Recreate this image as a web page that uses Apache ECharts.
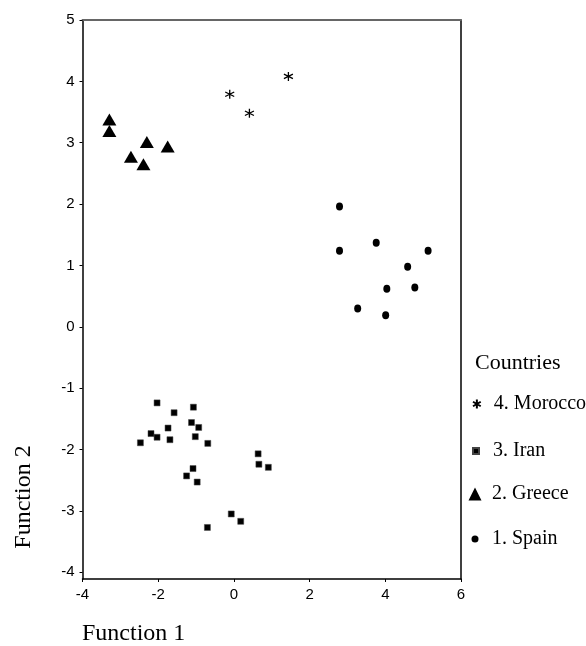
<!DOCTYPE html>
<html lang="en">
<head>
    <meta charset="UTF-8">
    <title>Countries discriminant functions</title>
    <script src="https://cdn.jsdelivr.net/npm/echarts@6/dist/echarts.min.js"></script>
    <style>
        html, body { margin: 0; padding: 0; background: #fff; }
        #main { width: 586px; height: 646px; }
    </style>
</head>
<body>
<div id="main"></div>
<script type="text/javascript">
    // points: [function 1, function 2]
    var spain = [[2.79, 1.96], [2.79, 1.24], [3.76, 1.37], [5.13, 1.24], [4.59, 0.98],
        [4.04, 0.62], [4.78, 0.64], [3.27, 0.30], [4.01, 0.19]];
    var greece = [[-3.29, 3.38], [-3.29, 3.19], [-2.72, 2.77], [-2.39, 2.65], [-2.30, 3.01], [-1.75, 2.94]];
    var iran = [[-2.03, -1.24], [-1.58, -1.40], [-1.07, -1.31], [-1.12, -1.56], [-0.93, -1.64],
        [-1.74, -1.65], [-2.19, -1.74], [-2.03, -1.80], [-1.69, -1.84], [-1.02, -1.79],
        [-2.47, -1.89], [-0.69, -1.90], [0.64, -2.07], [0.66, -2.24], [0.91, -2.29],
        [-1.08, -2.31], [-1.25, -2.43], [-0.97, -2.53], [-0.07, -3.05], [0.18, -3.17], [-0.70, -3.27]];
    var morocco = [[-0.11, 3.79], [0.41, 3.48], [1.44, 4.08]];
    var legendNames = ['4. Morocco', '3. Iran', '2. Greece', '1. Spain'];
    var yTicks = [-4, -3, -2, -1, 0, 1, 2, 3, 4, 5];

    var serif = '"Liberation Serif", "DejaVu Serif", serif';
    var sans = '"Liberation Sans", Arial, sans-serif';
    var star = 'path://M5,0 L5,10 M0.7,2.5 L9.3,7.5 M0.7,7.5 L9.3,2.5';

    var myChart = echarts.init(document.getElementById('main'));

    // one legend per country so every icon keeps its own size
    var legendTops = [402, 449, 492, 537];
    var legendSizes = [9, 6, 13, 7];
    var legends = legendNames.map(function (n, i) {
        var s = legendSizes[i];
        return {
            data: [n],
            left: 475 - s / 2,
            top: legendTops[i] - 9,
            padding: 0,
            itemWidth: s,
            itemHeight: s,
            itemGap: 0,
            selectedMode: false,
            textStyle: {
                fontFamily: serif, fontSize: 20, color: '#000', lineHeight: 22,
                padding: [0, 0, 0, 492 - (480 + s / 2)]
            }
        };
    });

    var option = {
        backgroundColor: '#fff',
        animation: false,
        grid: { left: 82.5, right: 125, top: 20, bottom: 67 },
        legend: legends,
        graphic: [
            { type: 'text', left: 475, top: 352,
              style: { text: 'Countries', font: '22px ' + serif, fill: '#000' } },
            { type: 'text', left: 82, top: 622,
              style: { text: 'Function 1', font: '24px ' + serif, fill: '#000' } },
            { type: 'text', x: 24, y: 497, rotation: Math.PI / 2,
              style: { text: 'Function 2', font: '24px ' + serif, fill: '#000', align: 'center', verticalAlign: 'middle' } }
        ],
        xAxis: [
            {
                type: 'value', min: -4, max: 6, interval: 2,
                splitLine: { show: false },
                axisLine: { onZero: false, lineStyle: { color: '#000', width: 1.5 } },
                axisTick: { length: 3, lineStyle: { color: '#000' } },
                axisLabel: { margin: 8, fontFamily: sans, fontSize: 15, color: '#000' }
            },
            {
                type: 'value', position: 'top', min: -4, max: 6,
                splitLine: { show: false },
                axisLine: { onZero: false, lineStyle: { color: '#666', width: 2 } },
                axisTick: { show: false }, axisLabel: { show: false }
            }
        ],
        yAxis: [
            {
                type: 'value', min: -4.11, max: 5,
                splitLine: { show: false },
                axisLine: { onZero: false, lineStyle: { color: '#000', width: 1.5 } },
                axisTick: { length: 3, customValues: yTicks, lineStyle: { color: '#000' } },
                axisLabel: { margin: 8, customValues: yTicks, fontFamily: sans, fontSize: 15, color: '#000' }
            },
            {
                type: 'value', position: 'right', min: -4.11, max: 5,
                splitLine: { show: false },
                axisLine: { onZero: false, lineStyle: { color: '#000', width: 1.5 } },
                axisTick: { show: false }, axisLabel: { show: false }
            }
        ],
        series: [
            {
                name: '4. Morocco', type: 'scatter', data: morocco,
                symbol: star, symbolSize: 9,
                itemStyle: { color: 'none', borderColor: '#000', borderWidth: 1.3, opacity: 1 }
            },
            {
                name: '3. Iran', type: 'scatter', data: iran,
                symbol: 'rect', symbolSize: 6,
                itemStyle: { color: '#000', borderColor: '#444', borderWidth: 0.5, opacity: 1 }
            },
            {
                name: '2. Greece', type: 'scatter', data: greece,
                symbol: 'triangle', symbolSize: [14, 12],
                itemStyle: { color: '#000', opacity: 1 }
            },
            {
                name: '1. Spain', type: 'scatter', data: spain,
                symbol: 'circle', symbolSize: [7, 8],
                itemStyle: { color: '#000', opacity: 1 }
            }
        ]
    };

    myChart.setOption(option);
</script>
</body>
</html>
